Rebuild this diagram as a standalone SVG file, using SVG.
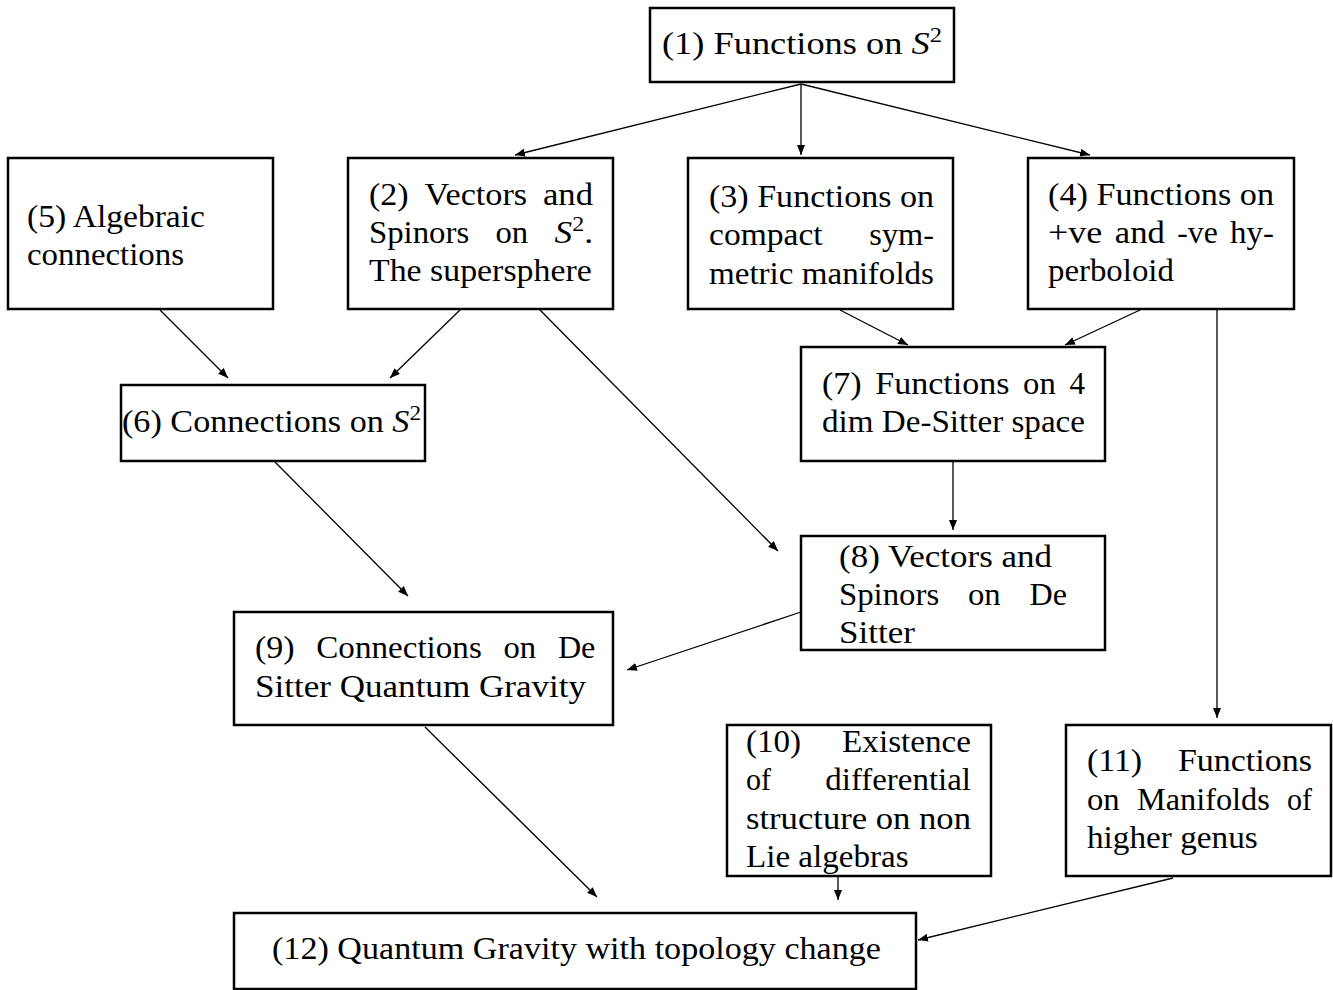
<svg xmlns="http://www.w3.org/2000/svg" width="1333" height="990" viewBox="0 0 1333 990">
<style>
rect{fill:#fff;stroke:#000;stroke-width:2.5}
text{font-family:'Liberation Serif',serif;font-size:31px;fill:#000}
.i{font-style:italic}
.sup{font-size:21px}
#edges line{stroke:#000;stroke-width:1.3;marker-end:url(#ah)}
</style>
<defs>
<marker id="ah" viewBox="0 0 10 8" refX="10" refY="4" markerWidth="10" markerHeight="8" markerUnits="userSpaceOnUse" orient="auto">
<path d="M0,0 L10,4 L0,8 z" fill="#000"/>
</marker>
</defs>
<rect width="1333" height="990" style="stroke:none"/>
<g id="edges">
<line x1="801" y1="84" x2="515" y2="155"/>
<line x1="801" y1="84" x2="801" y2="155"/>
<line x1="801" y1="84" x2="1090" y2="155"/>
<line x1="160" y1="310" x2="228" y2="378"/>
<line x1="460" y1="310" x2="390" y2="378"/>
<line x1="840" y1="310" x2="908" y2="345"/>
<line x1="1140" y1="310" x2="1065" y2="345"/>
<line x1="953" y1="462" x2="953" y2="530"/>
<line x1="540" y1="310" x2="778" y2="551"/>
<line x1="275" y1="462" x2="408" y2="596"/>
<line x1="801" y1="612" x2="627" y2="670"/>
<line x1="1217" y1="310" x2="1217" y2="718"/>
<line x1="425" y1="727" x2="597" y2="897"/>
<line x1="838" y1="877" x2="838" y2="900"/>
<line x1="1173" y1="878" x2="918" y2="940"/>
</g>
<g id="n1"><rect x="650" y="8" width="304" height="74"/>
<text x="662" y="54" textLength="280" lengthAdjust="spacingAndGlyphs">(1) Functions on <tspan class="i">S</tspan><tspan class="sup" dy="-12">2</tspan></text></g>
<g id="n5"><rect x="8" y="158" width="265" height="151"/>
<text x="27" y="227" textLength="178" lengthAdjust="spacingAndGlyphs">(5) Algebraic</text>
<text x="27" y="265" textLength="157" lengthAdjust="spacingAndGlyphs">connections</text></g>
<g id="n2"><rect x="348" y="158" width="265" height="151"/>
<text x="369" y="205" textLength="39.6" lengthAdjust="spacingAndGlyphs">(2)</text><text x="424.5" y="205" textLength="102.7" lengthAdjust="spacingAndGlyphs">Vectors</text><text x="543" y="205" textLength="50" lengthAdjust="spacingAndGlyphs">and</text>
<text x="369" y="243" textLength="100.2" lengthAdjust="spacingAndGlyphs">Spinors</text><text x="495.5" y="243" textLength="32.7" lengthAdjust="spacingAndGlyphs">on</text><text x="554.5" y="243" textLength="38.5" lengthAdjust="spacingAndGlyphs"><tspan class="i">S</tspan><tspan class="sup" dy="-12">2</tspan><tspan dy="12">.</tspan></text>
<text x="369" y="281" textLength="222.7" lengthAdjust="spacingAndGlyphs">The supersphere</text></g>
<g id="n3"><rect x="688" y="158" width="265" height="151"/>
<text x="709" y="207" textLength="225" lengthAdjust="spacingAndGlyphs">(3) Functions on</text>
<text x="709" y="245" textLength="113.6" lengthAdjust="spacingAndGlyphs">compact</text><text x="869.3" y="245" textLength="64.7" lengthAdjust="spacingAndGlyphs">sym-</text>
<text x="709" y="284" textLength="225" lengthAdjust="spacingAndGlyphs">metric manifolds</text></g>
<g id="n4"><rect x="1028" y="158" width="266" height="151"/>
<text x="1048" y="205" textLength="226" lengthAdjust="spacingAndGlyphs">(4) Functions on</text>
<text x="1048" y="243" textLength="54.3" lengthAdjust="spacingAndGlyphs">+ve</text><text x="1114.8" y="243" textLength="50" lengthAdjust="spacingAndGlyphs">and</text><text x="1177.3" y="243" textLength="40.5" lengthAdjust="spacingAndGlyphs">-ve</text><text x="1230.1" y="243" textLength="43.9" lengthAdjust="spacingAndGlyphs">hy-</text>
<text x="1048" y="281" textLength="125.9" lengthAdjust="spacingAndGlyphs">perboloid</text></g>
<g id="n6"><rect x="121" y="385" width="304" height="76"/>
<text x="122" y="432" textLength="299" lengthAdjust="spacingAndGlyphs">(6) Connections on <tspan class="i">S</tspan><tspan class="sup" dy="-12">2</tspan></text></g>
<g id="n7"><rect x="801" y="347" width="304" height="114"/>
<text x="822" y="394" textLength="39.6" lengthAdjust="spacingAndGlyphs">(7)</text><text x="875.3" y="394" textLength="134.1" lengthAdjust="spacingAndGlyphs">Functions</text><text x="1023.1" y="394" textLength="32.7" lengthAdjust="spacingAndGlyphs">on</text><text x="1069.5" y="394" textLength="15.5" lengthAdjust="spacingAndGlyphs">4</text>
<text x="822" y="432" textLength="263" lengthAdjust="spacingAndGlyphs">dim De-Sitter space</text></g>
<g id="n8"><rect x="801" y="536" width="304" height="114"/>
<text x="839" y="567" textLength="213" lengthAdjust="spacingAndGlyphs">(8) Vectors and</text>
<text x="839" y="605" textLength="100.2" lengthAdjust="spacingAndGlyphs">Spinors</text><text x="968" y="605" textLength="32.7" lengthAdjust="spacingAndGlyphs">on</text><text x="1029.5" y="605" textLength="37.5" lengthAdjust="spacingAndGlyphs">De</text>
<text x="839" y="643" textLength="75.9" lengthAdjust="spacingAndGlyphs">Sitter</text></g>
<g id="n9"><rect x="234" y="612" width="379" height="113"/>
<text x="255" y="658" textLength="39.6" lengthAdjust="spacingAndGlyphs">(9)</text><text x="316.3" y="658" textLength="165.5" lengthAdjust="spacingAndGlyphs">Connections</text><text x="503.5" y="658" textLength="32.7" lengthAdjust="spacingAndGlyphs">on</text><text x="557.9" y="658" textLength="37.5" lengthAdjust="spacingAndGlyphs">De</text>
<text x="255" y="697" textLength="331" lengthAdjust="spacingAndGlyphs">Sitter Quantum Gravity</text></g>
<g id="n10"><rect x="727" y="725" width="264" height="151"/>
<text x="746" y="752" textLength="55.1" lengthAdjust="spacingAndGlyphs">(10)</text><text x="842.1" y="752" textLength="128.9" lengthAdjust="spacingAndGlyphs">Existence</text>
<text x="746" y="790" textLength="25" lengthAdjust="spacingAndGlyphs">of</text><text x="825.3" y="790" textLength="145.7" lengthAdjust="spacingAndGlyphs">differential</text>
<text x="746" y="829" textLength="225" lengthAdjust="spacingAndGlyphs">structure on non</text>
<text x="746" y="867" textLength="162.6" lengthAdjust="spacingAndGlyphs">Lie algebras</text></g>
<g id="n11"><rect x="1066" y="725" width="265" height="151"/>
<text x="1087" y="771" textLength="55.1" lengthAdjust="spacingAndGlyphs">(11)</text><text x="1177.9" y="771" textLength="134.1" lengthAdjust="spacingAndGlyphs">Functions</text>
<text x="1087" y="810" textLength="32.7" lengthAdjust="spacingAndGlyphs">on</text><text x="1137" y="810" textLength="132.8" lengthAdjust="spacingAndGlyphs">Manifolds</text><text x="1287" y="810" textLength="25" lengthAdjust="spacingAndGlyphs">of</text>
<text x="1087" y="848" textLength="170.8" lengthAdjust="spacingAndGlyphs">higher genus</text></g>
<g id="n12"><rect x="234" y="913" width="682" height="76"/>
<text x="272" y="959" textLength="609" lengthAdjust="spacingAndGlyphs">(12) Quantum Gravity with topology change</text></g>
</svg>
